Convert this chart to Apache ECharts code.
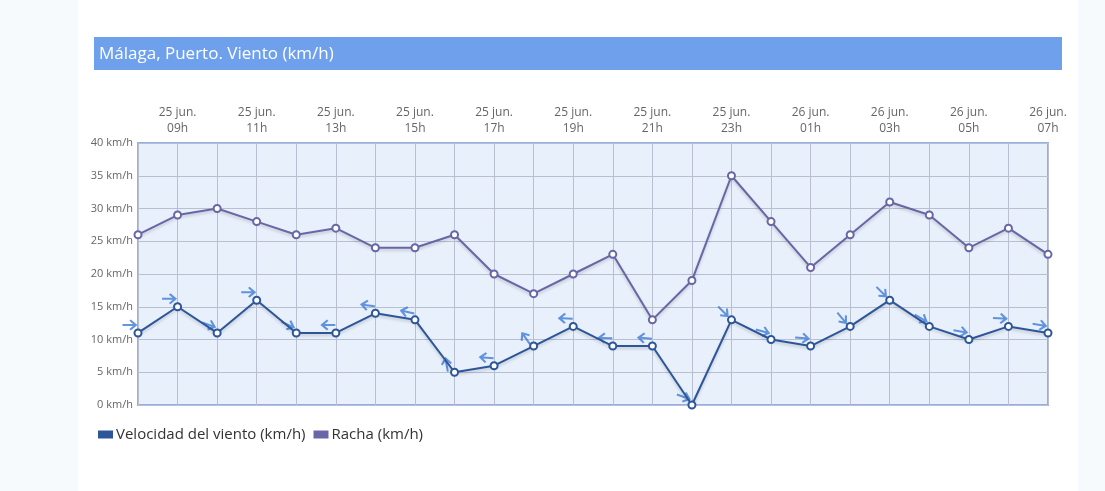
<!DOCTYPE html>
<html>
<head>
<meta charset="utf-8">
<script src="https://cdn.jsdelivr.net/npm/echarts@6/dist/echarts.min.js"></script>
<style>
html,body{margin:0;padding:0;background:#f6fafd;}
#chart{width:1105px;height:491px;}
</style>
</head>
<body>
<div id="chart"></div>
<script>
// ---- data ----
const days = ['25 jun.','25 jun.','25 jun.','25 jun.','25 jun.','25 jun.','25 jun.','25 jun.','25 jun.','25 jun.','25 jun.','25 jun.','25 jun.','25 jun.','25 jun.','25 jun.','26 jun.','26 jun.','26 jun.','26 jun.','26 jun.','26 jun.','26 jun.','26 jun.'];
const hours = ['08h','09h','10h','11h','12h','13h','14h','15h','16h','17h','18h','19h','20h','21h','22h','23h','00h','01h','02h','03h','04h','05h','06h','07h'];
const windSpeed = [11,15,11,16,11,11,14,13,5,6,9,12,9,9,0,13,10,9,12,16,12,10,12,11];
const gust      = [26,29,30,28,26,27,24,24,26,20,17,20,23,13,19,35,28,21,26,31,29,24,27,23];
// direction the arrow points (degrees, 0 = east, 90 = north)
const windDir   = [0,0,-20,0,-25,180,172,168,100,175,125,178,178,175,-20,-45,-15,-5,-50,-45,-30,-10,-3,-10];
const yTicks = {min:0, max:40, interval:5};
const title = 'Málaga, Puerto. Viento (km/h)';
const seriesNames = ['Velocidad del viento (km/h)','Racha (km/h)'];

const categories = days.map((d,i)=>d+'\n'+hours[i]);
const colSpeed = '#2c5699';
const colGust = '#6866a6';
const colArrow = '#3f7bd6';
const arrowPath = 'path://M0 4.9 H11 L7.2 1.5 L8.8 0 L15.8 6 L8.8 12 L7.2 10.5 L11 7.1 H0 Z';

const chart = echarts.init(document.getElementById('chart'));
const font = "'Open Sans', sans-serif";
chart.setOption({
  animation:false,
  textStyle:{fontFamily:font},
  graphic:[
    {type:'rect', shape:{x:78,y:0,width:1000,height:491}, style:{fill:'#ffffff'}, z:-10},
    {type:'rect', shape:{x:94,y:37,width:968,height:33}, style:{fill:'#6fa0ec'}, z:-5},
    {type:'text', x:99, y:54, style:{text:title, fill:'#ffffff', font:"17px 'Open Sans', sans-serif", textVerticalAlign:'middle'}, z:-4}
  ],
  legend:{
    left:93, top:422, itemWidth:15, itemHeight:8, itemGap:8, icon:'rect',
    data:[
      {name:seriesNames[0], itemStyle:{color:colSpeed, borderWidth:0}},
      {name:seriesNames[1], itemStyle:{color:colGust, borderWidth:0}}
    ],
    textStyle:{fontSize:15, color:'#333', fontFamily:font, padding:[0,0,0,-2]}
  },
  grid:{left:138, right:57, top:143, bottom:86, show:true, backgroundColor:'#e8f0fb', borderColor:'#8fb1e8', borderWidth:2},
  xAxis:{
    type:'category', position:'top', boundaryGap:false, data:categories,
    axisLine:{show:false}, axisTick:{show:false},
    axisLabel:{interval:(i)=>i%2===1, color:'#666', fontSize:12, lineHeight:16, margin:6, fontFamily:font},
    splitLine:{show:true, interval:0, lineStyle:{color:'#b9bfcf', width:1}}
  },
  yAxis:{
    type:'value', min:yTicks.min, max:yTicks.max, interval:yTicks.interval,
    axisLine:{show:false}, axisTick:{show:false},
    axisLabel:{formatter:'{value} km/h', color:'#666', fontSize:11, margin:5, fontFamily:font},
    splitLine:{lineStyle:{color:'#b9bfcf', width:1}}
  },
  series:[
    {
      name:'arrows', type:'scatter', silent:true, z:1,
      symbol:arrowPath, symbolSize:[15,11], symbolOffset:[-8,-8],
      itemStyle:{color:colArrow},
      data:windSpeed.map((v,i)=>({value:v, symbolRotate:windDir[i]}))
    },
    {
      name:seriesNames[1], type:'line', data:gust, z:3,
      symbol:'circle', symbolSize:7, showAllSymbol:true,
      lineStyle:{color:colGust, width:2, shadowColor:'rgba(0,0,0,0.18)', shadowBlur:3, shadowOffsetY:2},
      itemStyle:{color:'#ffffff', borderColor:colGust, borderWidth:2}
    },
    {
      name:seriesNames[0], type:'line', data:windSpeed, z:3,
      symbol:'circle', symbolSize:7, showAllSymbol:true,
      lineStyle:{color:colSpeed, width:2, shadowColor:'rgba(0,0,0,0.18)', shadowBlur:3, shadowOffsetY:2},
      itemStyle:{color:'#ffffff', borderColor:colSpeed, borderWidth:2}
    }
  ]
});
</script>
</body>
</html>
